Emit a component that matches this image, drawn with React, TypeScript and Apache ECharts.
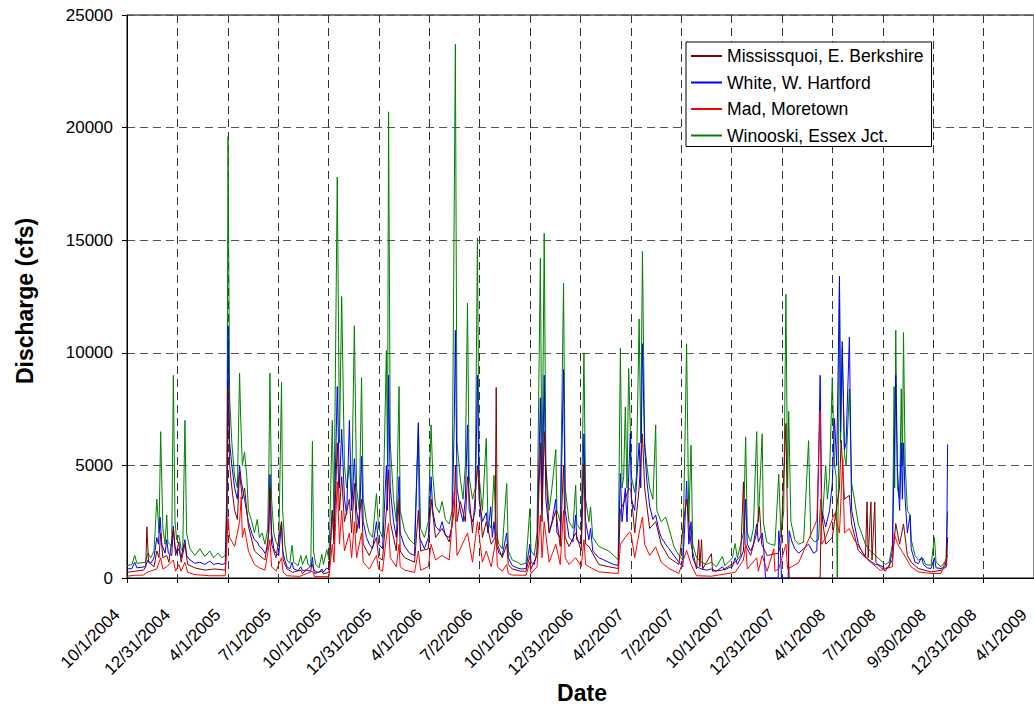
import React, { useEffect, useRef } from "react";
import * as echarts from "echarts";

// Day offsets are counted from 10/1/2004; values are discharge in cfs.
const seriesNames = [
  "Mississquoi, E. Berkshire",
  "White, W. Hartford",
  "Mad, Moretown",
  "Winooski, Essex Jct.",
];

const yTicks = { min: 0, max: 25000, step: 5000 };
const xStepDays = 91.305; // quarter-year spacing of the date ticks
const xTickCount = 18;

const winooski = [
[0,550],[9,600],[14,1000],[18,650],[33,700],[38,1100],[43,900],[49,1200],[54,3500],[56,2800],[58,2000],[61,6500],[65,2200],[69,1500],[72,2800],[74,1600],[81,1400],[84,9000],[87,2500],[90,1700],[94,1900],[98,1300],[101,1200],[105,7000],[108,2000],[114,1300],[123,1000],[132,1300],[141,950],[150,1200],[157,900],[165,1100],[172,900],[178,1000],
[181,4000],[183,19600],[186,8000],[190,6000],[195,4500],[200,4000],[204,9100],[206,7100],[209,5000],[213,5600],[217,4500],[220,3000],[226,2500],[231,2000],[236,2600],[240,1800],[245,2000],[250,1500],[255,2200],[257,4800],[259,9100],[262,3500],[266,2000],[270,1600],[275,1400],[280,8700],[282,3000],[286,1500],
[290,800],[295,650],[299,1450],[302,700],[310,550],[315,1000],[318,600],[325,1000],[328,600],[333,500],[336,6070],[338,1200],[342,600],[348,450],[353,1050],[356,600],[362,1260],[366,800],
[372,7000],[375,2500],[381,17800],[385,6000],[389,12500],[394,5000],[398,4000],[403,5000],[407,3500],[412,11200],[416,4000],[421,3000],[425,8900],[428,3500],[434,2500],[439,2000],[445,1800],[452,3750],[456,2200],[463,1800],[470,10100],[472,5000],[474,20700],[477,6000],[483,3500],[488,2500],[493,8500],[495,3000],[503,2100],[512,1700],[521,1500],[528,6800],[532,2200],[539,1800],[546,2500],[551,6800],[554,4600],[559,3200],[566,2900],[571,3400],[577,2600],[584,2400],[589,3000],[595,23700],[598,6000],[604,4400],[609,3500],[613,5000],[617,12200],[620,4500],[626,3500],[631,4000],[635,15100],[638,4500],[644,3000],[651,6200],[654,2500],[660,2200],[665,4560],[669,2000],[674,1500],[680,1300],[688,4200],[691,1200],[698,800],[707,700],[714,600],[723,650],[730,3080],[732,1200],[738,1000],[743,2000],[749,14200],[752,4000],[756,15300],[759,5000],[765,3000],[770,4000],[777,5700],[779,3000],[785,2500],[791,13100],[794,4000],[801,2500],[808,2200],[813,4120],[815,2400],[823,2100],[828,10000],[831,3500],[837,2500],[840,3160],[844,1800],[855,1400],[864,1300],[873,1200],[882,1000],[890,800],
[894,10200],[897,4000],[900,4500],[903,7600],[906,4000],[909,9300],[912,6700],[914,4500],[920,3800],[923,4500],[928,11500],[931,6000],[934,14500],[938,6000],[942,5000],[947,4000],[953,3500],[958,6800],[960,3000],[968,2500],[976,2700],[982,2200],[991,1400],[1000,1000],[1007,800],[1011,6000],[1014,10400],[1018,2500],[1022,5900],[1025,1500],[1032,900],[1041,700],[1050,600],[1059,700],[1068,500],[1079,960],[1083,550],[1090,700],[1097,900],[1102,1530],[1106,900],[1112,1500],[1117,2000],[1121,6270],[1124,2000],[1130,1600],[1135,2200],[1141,6500],[1144,2500],[1151,6400],[1153,2500],[1159,1600],[1166,1500],[1174,1450],[1181,4600],[1185,1800],[1190,3000],[1194,12600],[1197,4000],[1199,7400],[1203,2500],[1210,1700],[1217,1500],[1226,1600],[1235,6100],[1239,1800],[1246,1600],[1253,1700],[1257,3500],[1260,2500],[1266,5000],[1269,3500],[1273,4500],[1278,8900],[1282,5000],[1285,4500],[1287,0],[1289,4000],[1291,13100],[1293,6000],[1296,10200],[1300,5500],[1303,5000],[1309,8400],[1313,4200],[1318,3500],[1325,2400],[1331,2000],[1338,1500],[1347,1200],[1356,1000],[1365,800],[1374,600],[1381,700],[1387,1500],[1390,8500],[1391,4000],[1393,11000],[1396,4000],[1400,3500],[1403,8400],[1405,5000],[1407,10900],[1410,5100],[1414,3000],[1419,2800],[1421,1700],[1428,1000],[1434,800],[1443,860],[1447,600],[1457,560],[1463,1800],[1466,700],[1475,500],[1482,720],[1484,900],[1487,2960]
];

const white = [
[0,400],[9,420],[14,700],[18,450],[33,500],[38,800],[43,650],[49,900],[54,1800],[57,1500],[60,2700],[63,1500],[69,1100],[72,1700],[75,1100],[81,1000],[84,2300],[87,1400],[90,1100],[94,1300],[98,900],[105,1700],[108,1000],[114,800],[123,650],[132,700],[141,600],[150,750],[157,600],[165,650],[172,600],[178,650],
[181,3000],[183,11200],[186,6000],[190,5000],[195,4000],[200,3500],[204,5000],[207,4300],[213,3500],[220,2500],[226,2000],[231,1700],[236,1600],[240,1400],[245,1300],[250,1100],[255,1300],[257,2500],[259,4600],[262,2000],[266,1300],[270,1100],[275,1000],[280,2500],[282,1200],[286,800],
[290,500],[295,400],[299,700],[302,400],[310,330],[315,500],[318,330],[325,350],[333,300],[336,930],[338,400],[342,280],[348,250],[353,400],[356,260],[362,450],[366,350],
[372,3000],[375,1800],[381,8500],[385,4000],[389,6600],[394,3500],[398,2800],[403,7000],[407,3000],[412,5300],[416,3000],[421,2200],[425,5400],[428,2500],[434,1800],[439,1500],[445,1300],[452,2500],[456,1500],[463,1300],[470,5000],[472,3000],[474,9000],[477,4000],[483,2500],[488,1800],[493,4500],[495,2000],[503,1400],[512,1100],[521,1000],[528,6900],[530,1800],[539,1300],[546,1800],[551,4500],[554,3000],[559,2300],[566,2100],[571,2500],[577,1900],[584,1800],[589,2300],[593,6900],[595,11000],[598,4000],[604,3000],[609,2500],[613,3500],[617,6800],[620,3000],[626,2500],[631,3000],[635,9000],[638,3500],[644,2500],[651,2900],[654,2000],[659,3160],[662,1800],[665,2500],[669,1500],[674,1100],[680,1000],[688,2000],[691,900],[698,550],[707,450],[714,400],[723,420],[730,1500],[732,700],[738,600],[743,1200],[749,8000],[752,3000],[756,9000],[759,3500],[765,2000],[770,2500],[777,3500],[779,2000],[785,1800],[791,9260],[794,3000],[801,1800],[808,1600],[813,2800],[815,1700],[823,1500],[828,6400],[831,2500],[837,1700],[840,2200],[844,1200],[855,900],[864,800],[873,700],[882,600],[890,560],
[894,4640],[897,2500],[903,4000],[906,2500],[909,4500],[912,6420],[914,3500],[920,3000],[928,6000],[931,4000],[934,10400],[938,5800],[942,4300],[947,3200],[953,2600],[958,2800],[963,2200],[968,1800],[976,1500],[982,1300],[991,1000],[1000,700],[1007,500],[1011,2500],[1014,4300],[1018,1500],[1022,2500],[1025,900],[1032,500],[1041,400],[1050,350],[1059,400],[1068,300],[1079,500],[1083,350],[1090,450],[1097,500],[1102,900],[1106,600],[1112,900],[1117,1200],[1121,3500],[1124,1500],[1130,1200],[1135,1500],[1141,2400],[1144,1600],[1151,2000],[1154,1200],[1157,0],[1180,0],[1181,2100],[1184,1200],[1186,0],[1198,0],[1200,2100],[1205,1600],[1210,1300],[1217,1100],[1226,1300],[1235,1500],[1244,1100],[1250,1200],[1256,9000],[1259,3000],[1266,2270],[1273,3000],[1278,4200],[1282,7080],[1286,5000],[1291,13400],[1293,6500],[1296,10500],[1300,5700],[1303,6000],[1309,10700],[1313,3000],[1318,2400],[1325,1530],[1331,1200],[1338,930],[1347,750],[1356,600],[1365,560],[1374,420],[1381,500],[1387,1200],[1390,5000],[1393,9000],[1396,4900],[1400,3000],[1403,6000],[1405,3500],[1407,6000],[1410,3500],[1414,2000],[1419,2790],[1421,1300],[1428,700],[1434,640],[1440,930],[1443,600],[1450,450],[1457,420],[1463,900],[1466,450],[1475,420],[1482,500],[1485,800],[1487,5930]
];

const mississquoi = [
[0,250],[14,300],[30,350],[34,500],[36,2270],[39,700],[49,500],[54,1200],[58,900],[61,2000],[65,900],[72,1000],[76,700],[84,2200],[88,1000],[94,1600],[98,700],[105,1500],[110,600],[123,450],[141,350],[159,400],[178,350],
[181,2000],[183,8500],[186,5000],[190,4000],[195,3000],[200,2600],[204,4700],[209,3500],[213,4000],[220,2300],[231,1200],[240,1000],[250,800],[257,2000],[259,4000],[262,1500],[270,900],[280,2500],[283,800],[290,400],[300,250],[315,350],[318,200],[336,600],[340,200],[353,300],[356,180],[366,250],
[372,3000],[375,1500],[381,6000],[385,3000],[389,4500],[394,2500],[403,3500],[407,2000],[412,4200],[416,2000],[425,3500],[428,1500],[439,1000],[452,1800],[456,900],[463,800],[470,3000],[474,4800],[477,2500],[488,1200],[493,3500],[495,1200],[503,900],[521,700],[528,3000],[532,1200],[546,1300],[551,3500],[559,1800],[571,2200],[584,1600],[593,3000],[595,5000],[598,2500],[604,3400],[613,2500],[617,4500],[626,2000],[635,5000],[644,1800],[651,2500],[660,1500],[667,1800],[669,8460],[671,1500],[680,900],[688,1500],[691,600],[698,400],[714,300],[723,300],[730,1000],[732,400],[743,1000],[749,6000],[752,2500],[756,6500],[765,2000],[777,3000],[785,1400],[791,5000],[794,1800],[801,1400],[813,2000],[823,1200],[828,5080],[831,1500],[837,1400],[855,600],[873,500],[890,420],
[894,3000],[903,3500],[909,4000],[913,3900],[920,2000],[928,4000],[934,6400],[938,4000],[947,2200],[958,2500],[968,1500],[982,900],[1000,600],[1011,3000],[1014,3500],[1022,1500],[1032,400],[1036,1700],[1038,500],[1041,1700],[1043,400],[1059,1080],[1061,300],[1079,350],[1102,700],[1112,1000],[1117,4270],[1120,1500],[1130,1000],[1141,2000],[1146,3160],[1150,1500],[1160,1000],[1180,1100],[1185,1500],[1194,6860],[1197,2000],[1200,0],[1256,0],[1258,3000],[1266,1500],[1278,1800],[1282,2500],[1291,4000],[1294,6120],[1300,3500],[1309,3670],[1313,2400],[1325,1230],[1338,900],[1341,3380],[1343,900],[1348,3380],[1350,800],[1355,3380],[1357,700],[1365,490],[1374,300],[1387,800],[1393,2420],[1400,1500],[1407,2400],[1414,1000],[1421,700],[1434,420],[1457,270],[1475,340],[1485,500],[1487,1820]
];

const mad = [
[0,80],[14,120],[30,130],[36,250],[54,400],[61,900],[65,400],[72,500],[84,800],[88,300],[94,600],[98,300],[105,700],[110,250],[123,150],[150,100],[178,100],
[181,1500],[183,2650],[186,1800],[195,1400],[204,2500],[207,3600],[209,1800],[213,2200],[220,1200],[231,600],[240,450],[250,350],[259,1700],[262,500],[270,300],[280,900],[283,250],[290,100],[313,70],[336,300],[340,60],[366,60],
[372,1500],[375,700],[381,4270],[385,1500],[389,3000],[394,1200],[403,2000],[407,900],[412,2500],[416,900],[425,2000],[428,700],[439,400],[452,1000],[456,400],[463,300],[470,1800],[474,2420],[477,900],[488,500],[493,1500],[495,500],[503,350],[521,250],[528,1200],[532,350],[546,500],[551,1500],[559,800],[571,1000],[584,800],[593,3820],[598,1000],[604,1300],[617,2000],[626,700],[635,2500],[644,700],[651,1200],[660,500],[669,1800],[671,500],[680,300],[688,600],[691,200],[698,130],[723,120],[730,700],[732,200],[743,500],[749,2800],[752,900],[756,2500],[765,700],[777,1500],[785,600],[791,3000],[794,900],[801,600],[813,900],[823,500],[828,1700],[831,600],[837,500],[855,270],[890,200],
[894,1500],[903,1800],[909,2000],[913,2000],[920,900],[928,2000],[934,2710],[938,1500],[947,1000],[958,1380],[968,700],[982,420],[1000,200],[1011,1000],[1014,1230],[1022,600],[1032,100],[1059,80],[1102,250],[1117,800],[1121,1500],[1124,400],[1141,900],[1144,300],[1151,1000],[1160,300],[1172,1300],[1174,300],[1181,400],[1194,1500],[1197,400],[1217,680],[1250,2560],[1256,7400],[1259,1500],[1266,1800],[1282,2860],[1291,2000],[1297,5300],[1300,2000],[1309,2200],[1318,1680],[1343,790],[1365,340],[1387,500],[1390,1970],[1396,1530],[1421,490],[1434,270],[1457,200],[1475,200],[1487,1000]
];

const colors = ["#800000", "#0000FF", "#FF0000", "#008000"];
const FONT = "'Liberation Sans', Arial, sans-serif";

function dayToLabel(v: number): string {
  const base = Date.UTC(2004, 9, 1);
  const d = new Date(base + Math.floor(v + 1e-6) * 86400000);
  return `${d.getUTCMonth() + 1}/${d.getUTCDate()}/${d.getUTCFullYear()}`;
}

export default function App() {
  const ref = useRef<HTMLDivElement>(null);
  useEffect(() => {
    document.body.style.margin = "0";
    if (!ref.current) return;
    const chart = echarts.init(ref.current, undefined, { renderer: "svg" });
    const lineSeries = (name: string, data: number[][], color: string, z: number) => ({
      name,
      type: "line",
      data,
      showSymbol: false,
      symbol: "none",
      color,
      z,
      lineStyle: { width: 1, color },
      emphasis: { disabled: true },
    });
    chart.setOption({
      animation: false,
      backgroundColor: "#fff",
      grid: {
        left: 127,
        top: 15,
        width: 909,
        height: 563,
        show: true,
        borderColor: "#000",
        borderWidth: 1,
        backgroundColor: "transparent",
      },
      legend: {
        data: seriesNames,
        orient: "vertical",
        left: 686,
        top: 42,
        backgroundColor: "#fff",
        borderColor: "#000",
        borderWidth: 1,
        padding: [5, 8, 2, 5],
        itemWidth: 31,
        itemHeight: 2,
        itemGap: 8.5,
        icon: "rect",
        textStyle: { fontFamily: FONT, fontSize: 17.6, color: "#000", lineHeight: 18 },
        selectedMode: false,
      },
      xAxis: {
        type: "value",
        min: 0,
        max: xStepDays * xTickCount,
        interval: xStepDays,
        axisLine: { show: true, lineStyle: { color: "#000", width: 1 } },
        axisTick: { show: true, length: 5, lineStyle: { color: "#000" } },
        splitLine: { show: true, lineStyle: { color: "#333", width: 1, type: [8, 5] } },
        axisLabel: {
          rotate: 45,
          margin: 24,
          padding: [0, 14, 0, 0],
          fontFamily: FONT,
          fontSize: 17,
          color: "#000",
          showMinLabel: true,
          showMaxLabel: true,
          hideOverlap: false,
          formatter: (v: number) => dayToLabel(v),
        },
      },
      yAxis: {
        type: "value",
        min: yTicks.min,
        max: yTicks.max,
        interval: yTicks.step,
        axisLine: { show: true, lineStyle: { color: "#000", width: 1 } },
        axisTick: { show: true, length: 5, lineStyle: { color: "#000" } },
        splitLine: { show: true, lineStyle: { color: "#555", width: 1, type: [8, 5] } },
        axisLabel: {
          margin: 14,
          fontFamily: FONT,
          fontSize: 17,
          color: "#000",
          formatter: (v: number) => String(v),
        },
      },
      graphic: [
        {
          type: "text",
          x: 25,
          y: 301,
          rotation: Math.PI / 2,
          style: {
            text: "Discharge (cfs)",
            font: `bold 23px ${FONT}`,
            fill: "#000",
            textAlign: "center",
            textVerticalAlign: "middle",
          },
        },
        {
          type: "text",
          x: 582,
          y: 693,
          style: {
            text: "Date",
            font: `bold 23px ${FONT}`,
            fill: "#000",
            textAlign: "center",
            textVerticalAlign: "middle",
          },
        },
      ],
      series: [
        lineSeries(seriesNames[3], winooski, colors[3], 2),
        lineSeries(seriesNames[1], white, colors[1], 3),
        lineSeries(seriesNames[0], mississquoi, colors[0], 4),
        lineSeries(seriesNames[2], mad, colors[2], 5),
      ],
    });
    return () => chart.dispose();
  }, []);
  return <div ref={ref} style={{ width: 1034, height: 709 }} />;
}
